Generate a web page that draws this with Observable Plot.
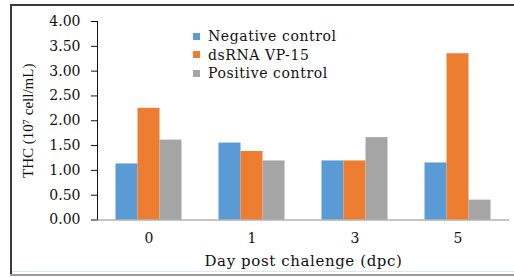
<!DOCTYPE html>
<html>
<head>
<meta charset="utf-8">
<script src="https://cdn.jsdelivr.net/npm/d3@7"></script>
<script src="https://cdn.jsdelivr.net/npm/@observablehq/plot@0.6"></script>
<style>
  html, body { margin: 0; padding: 0; background: #fff; }
  #wrap { position: relative; width: 514px; height: 277px; overflow: hidden; font-family: "DejaVu Serif", serif; }
  #chart { position: absolute; left: 0; top: 0; }
  .frame-top { position: absolute; left: 10px; top: 4px; width: 504px; height: 2px; background: #3a3a3a; }
  .frame-left { position: absolute; left: 10px; top: 4px; width: 2px; height: 272px; background: #3a3a3a; }
  .frame-blue { position: absolute; left: 12px; top: 271px; width: 502px; height: 1px; background: #dce7f3; }
  .frame-bottom { position: absolute; left: 10px; top: 274px; width: 504px; height: 2px; background: #9a9a9a; }
  #legend { position: absolute; left: 193px; top: 27px; font-size: 14px; letter-spacing: 0.6px; color: #111; }
  #legend .row { height: 18.5px; line-height: 18.5px; display: flex; align-items: center; white-space: nowrap; }
  #legend .sw { width: 7px; height: 7px; margin-right: 8px; display: inline-block; }
  .plot g[aria-label*="axis"] path, .plot g[aria-label*="axis"] line { stroke: #8c8c8c; }
  g[aria-label="y-axis label"] text { font-family: "Liberation Serif", serif; font-size: 15px; }
  g[aria-label="fx-axis label"] text { font-size: 15px; letter-spacing: 0.6px; }
</style>
</head>
<body>
<div id="wrap">
  <div id="chart"></div>
  <div class="frame-top"></div>
  <div class="frame-left"></div>
  <div class="frame-blue"></div>
  <div class="frame-bottom"></div>
  <div id="legend"></div>
</div>
<script>
const days = ["0", "1", "3", "5"];
const series = ["Negative control", "dsRNA VP-15", "Positive control"];
const negativeControl = [1.13, 1.55, 1.19, 1.15];
const dsrnaVP15 = [2.25, 1.38, 1.19, 3.35];
const positiveControl = [1.61, 1.19, 1.66, 0.40];
const yTicks = [0, 0.5, 1, 1.5, 2, 2.5, 3, 3.5, 4];
const colors = ["#5B9BD5", "#ED7D31", "#A5A5A5"];

const valuesBySeries = [negativeControl, dsrnaVP15, positiveControl];
const table = [];
days.forEach((d, i) => {
  series.forEach((s, j) => table.push({day: d, series: s, value: valuesBySeries[j][i]}));
});

const chart = Plot.plot({
  width: 514,
  height: 277,
  marginLeft: 95.5,
  marginRight: 3,
  marginTop: 21,
  marginBottom: 57.5,
  style: {fontFamily: "DejaVu Serif", fontSize: "14px", background: "transparent", color: "#111"},
  fx: {domain: days, padding: 0, label: "Day post chalenge (dpc)", labelAnchor: "center", tickSize: 0, tickPadding: 13, labelOffset: 46},
  x: {domain: series, paddingInner: 0, paddingOuter: 0.76, axis: null},
  y: {domain: [0, 4], ticks: yTicks, tickFormat: ".2f", tickSize: 6, tickPadding: 11, line: true,
      label: "THC (10⁷ cell/mL)", labelAnchor: "center", labelArrow: "none", labelOffset: 75},
  color: {domain: series, range: colors},
  marks: [
    Plot.barY(table, {fx: "day", x: "series", y: "value", fill: "series"}),
    Plot.ruleY([0], {stroke: "#8c8c8c"})
  ]
});
document.getElementById("chart").appendChild(chart);

const legend = document.getElementById("legend");
series.forEach((s, j) => {
  const row = document.createElement("div");
  row.className = "row";
  const sw = document.createElement("span");
  sw.className = "sw";
  sw.style.background = colors[j];
  row.appendChild(sw);
  row.appendChild(document.createTextNode(s));
  legend.appendChild(row);
});
</script>
</body>
</html>
